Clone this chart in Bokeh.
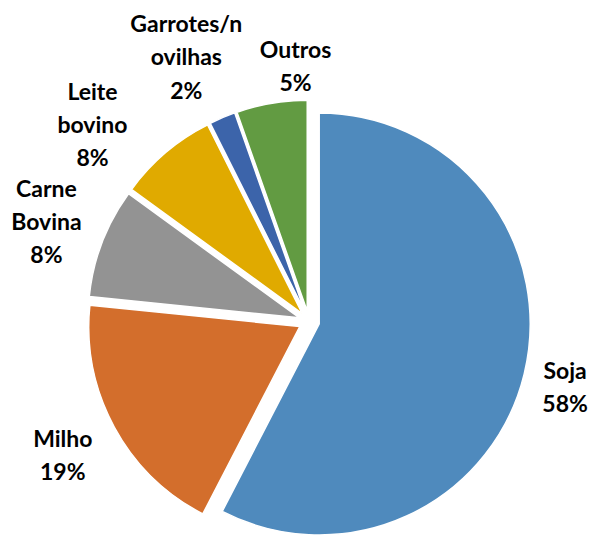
import math
from bokeh.plotting import figure
from bokeh.models import ColumnDataSource, Range1d
from bokeh.embed import file_html
from bokeh.resources import INLINE
from bokeh.core.properties import value

# ---- data ----
categories = ["Soja", "Milho", "Carne\nBovina", "Leite\nbovino", "Garrotes/n\novilhas", "Outros"]
shares = [57.6, 19.0, 8.4, 7.6, 2.0, 5.4]
colors = ["#4F8ABD", "#D36E2C", "#939393", "#E0AA00", "#3C64AA", "#629B42"]

# ---- label placement (styling) ----
label_radius = [1.252, 1.327, 1.332, 1.389, 1.384, 1.215]
label_nudge_deg = [0.55, 0.0, 0.0, -7.3, -1.8, 6.7]

W, H = 590, 536
CX, CY = 308.5, 215.0
R = 211.0
EXPLODE = 10.5

total = sum(shares)
xs, ys, starts, ends, lx, ly, labels = [], [], [], [], [], [], []
cum = 0.0
for i, v in enumerate(shares):
    t1 = cum / total * 360.0
    cum += v
    t2 = cum / total * 360.0
    mid = (t1 + t2) / 2.0
    phi_mid = math.radians(90.0 - mid)
    xs.append(CX + EXPLODE * math.cos(phi_mid))
    ys.append(CY + EXPLODE * math.sin(phi_mid))
    starts.append(math.radians(90.0 - t2))
    ends.append(math.radians(90.0 - t1))
    phl = math.radians(90.0 - (mid + label_nudge_deg[i]))
    lx.append(CX + R * label_radius[i] * math.cos(phl))
    ly.append(CY + R * label_radius[i] * math.sin(phl))
    labels.append(f"{categories[i]}\n{v / total * 100:.0f}%")

src = ColumnDataSource(dict(x=xs, y=ys, start=starts, end=ends, color=colors))
lsrc = ColumnDataSource(dict(x=lx, y=ly, text=labels))

p = figure(width=W, height=H, x_range=Range1d(0, W), y_range=Range1d(0, H),
           output_backend="svg", toolbar_location=None, min_border=0,
           x_axis_type=None, y_axis_type=None)
p.outline_line_color = None
p.grid.visible = False
p.background_fill_color = "white"
p.border_fill_color = "white"

p.wedge(x="x", y="y", radius=R, start_angle="start", end_angle="end",
        direction="anticlock", fill_color="color", line_color="white",
        line_width=1.5, source=src)

p.text(x="x", y="y", text="text", source=lsrc, text_font=value("Lato"),
       text_font_style="bold", text_font_size="23px", text_align="center",
       text_baseline="middle", text_line_height=1.18, text_color="black")

open("out.html", "w").write(file_html(p, INLINE))
